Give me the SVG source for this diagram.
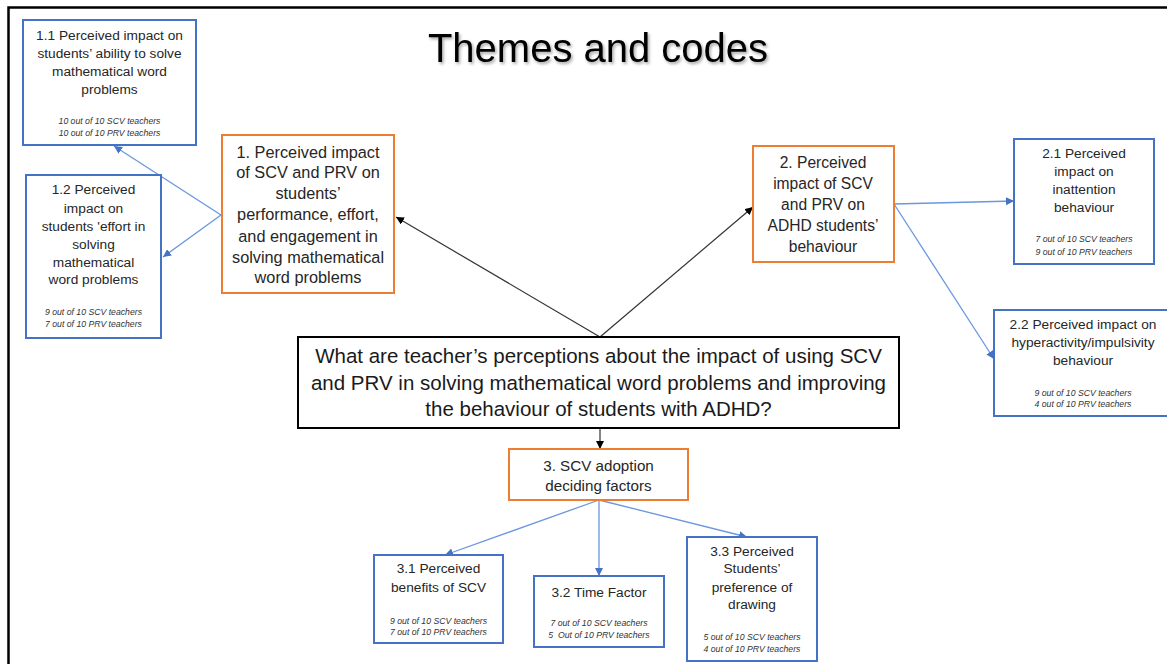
<svg xmlns="http://www.w3.org/2000/svg" width="1167" height="664" viewBox="0 0 1167 664">
<style>
text{font-family:"Liberation Sans",Arial,sans-serif;fill:#262626;text-anchor:middle}
.t{font-size:40px;fill:#000}
.q{font-size:20.5px;fill:#1a1a1a}
.o{font-size:16.3px}
.o2{font-size:15.6px}
.o3{font-size:15.2px}
.b{font-size:13.7px}
.s{font-size:8.7px;font-style:italic;fill:#333;white-space:pre}
.bo{fill:#fff;stroke:#4472C4;stroke-width:2}
.or{fill:#fff;stroke:#ED7D31;stroke-width:2}
.mb{fill:#fff;stroke:#000;stroke-width:2}
.cb{stroke:#6A97DF;stroke-width:1.3;fill:none;marker-end:url(#ab)}
.ck{stroke:#333;stroke-width:1.2;fill:none;marker-end:url(#ak)}
</style>
<defs>
<marker id="ab" viewBox="0 0 10 10" refX="10" refY="5" markerWidth="8" markerHeight="8" markerUnits="userSpaceOnUse" orient="auto"><path d="M0,0 L10,5 L0,10 z" fill="#4472C4"/></marker>
<marker id="ak" viewBox="0 0 10 10" refX="10" refY="5" markerWidth="8" markerHeight="8" markerUnits="userSpaceOnUse" orient="auto"><path d="M0,0 L10,5 L0,10 z" fill="#000"/></marker>
<filter id="sh" x="-10%" y="-30%" width="120%" height="160%"><feDropShadow dx="1.5" dy="2" stdDeviation="1.5" flood-color="#000" flood-opacity="0.35"/></filter>
</defs>
<rect width="1167" height="664" fill="#fff"/>
<path d="M8.5,664 L8.5,7.5 L1167,7.5" fill="none" stroke="#000" stroke-width="2.5"/>
<text class="t" x="598" y="62" filter="url(#sh)">Themes and codes</text>

<g id="connectors">
<path class="cb" d="M221,215 L114,146"/>
<path class="cb" d="M221,215 L163,257"/>
<path class="ck" d="M600,337 L396,217"/>
<path class="ck" d="M600,337 L753,207"/>
<path class="ck" d="M600,428 L600,449"/>
<path class="cb" d="M894,204 L1014,201"/>
<path class="cb" d="M894,204 L994,359"/>
<path class="cb" d="M599,500 L445,555"/>
<path class="cb" d="M599,500 L599,576"/>
<path class="cb" d="M599,500 L747,537"/>
</g>

<g id="n1_1">
<rect class="bo" x="23" y="20" width="173" height="125"/>
<text class="b" x="109.5" y="40">1.1 Perceived impact on</text>
<text class="b" x="109.5" y="58">students’ ability to solve</text>
<text class="b" x="109.5" y="76">mathematical word</text>
<text class="b" x="109.5" y="94">problems</text>
<text class="s" x="109.5" y="124">10 out of 10 SCV teachers</text>
<text class="s" x="109.5" y="136">10 out of 10 PRV teachers</text>
</g>

<g id="n1_2">
<rect class="bo" x="26" y="175" width="135" height="163"/>
<text class="b" x="93.5" y="194">1.2 Perceived</text>
<text class="b" x="93.5" y="213">impact on</text>
<text class="b" x="93.5" y="231">students 'effort in</text>
<text class="b" x="93.5" y="249">solving</text>
<text class="b" x="93.5" y="267">mathematical</text>
<text class="b" x="93.5" y="284">word problems</text>
<text class="s" x="93.5" y="315">9 out of 10 SCV teachers</text>
<text class="s" x="93.5" y="327">7 out of 10 PRV teachers</text>
</g>

<g id="n1">
<rect class="or" x="222" y="135" width="172" height="158"/>
<text class="o" x="308" y="158">1. Perceived impact</text>
<text class="o" x="308" y="178">of SCV and PRV on</text>
<text class="o" x="308" y="199">students’</text>
<text class="o" x="308" y="220">performance, effort,</text>
<text class="o" x="308" y="242">and engagement in</text>
<text class="o" x="308" y="263">solving mathematical</text>
<text class="o" x="308" y="283">word problems</text>
</g>

<g id="n2">
<rect class="or" x="753" y="146" width="141" height="116"/>
<text class="o2" x="823" y="168">2. Perceived</text>
<text class="o2" x="823" y="189">impact of SCV</text>
<text class="o2" x="823" y="210">and PRV on</text>
<text class="o2" x="823" y="231">ADHD students’</text>
<text class="o2" x="823" y="252">behaviour</text>
</g>

<g id="n2_1">
<rect class="bo" x="1014" y="139" width="140" height="125"/>
<text class="b" x="1084" y="158">2.1 Perceived</text>
<text class="b" x="1084" y="176">impact on</text>
<text class="b" x="1084" y="194">inattention</text>
<text class="b" x="1084" y="212">behaviour</text>
<text class="s" x="1084" y="242">7 out of 10 SCV teachers</text>
<text class="s" x="1084" y="255">9 out of 10 PRV teachers</text>
</g>

<g id="n2_2">
<rect class="bo" x="994" y="310" width="180" height="106"/>
<text class="b" x="1083" y="329">2.2 Perceived impact on</text>
<text class="b" x="1083" y="347">hyperactivity/impulsivity</text>
<text class="b" x="1083" y="365">behaviour</text>
<text class="s" x="1083" y="396">9 out of 10 SCV teachers</text>
<text class="s" x="1083" y="407">4 out of 10 PRV teachers</text>
</g>

<g id="main">
<rect class="mb" x="298" y="337" width="601" height="91"/>
<text class="q" x="598.5" y="363">What are teacher’s perceptions about the impact of using SCV</text>
<text class="q" x="598.5" y="390">and PRV in solving mathematical word problems and improving</text>
<text class="q" x="598.5" y="416">the behaviour of students with ADHD?</text>
</g>

<g id="n3">
<rect class="or" x="509" y="449" width="179" height="51"/>
<text class="o3" x="598.5" y="470.5">3. SCV adoption</text>
<text class="o3" x="598.5" y="490.5">deciding factors</text>
</g>

<g id="n3_1">
<rect class="bo" x="374" y="555" width="129" height="88"/>
<text class="b" x="438.5" y="573">3.1 Perceived</text>
<text class="b" x="438.5" y="592">benefits of SCV</text>
<text class="s" x="438.5" y="624">9 out of 10 SCV teachers</text>
<text class="s" x="438.5" y="635">7 out of 10 PRV teachers</text>
</g>

<g id="n3_2">
<rect class="bo" x="534" y="576" width="130" height="71"/>
<text class="b" x="599" y="597">3.2 Time Factor</text>
<text class="s" x="599" y="626">7 out of 10 SCV teachers</text>
<text class="s" x="599" y="638">5  Out of 10 PRV teachers</text>
</g>

<g id="n3_3">
<rect class="bo" x="687" y="537" width="130" height="124"/>
<text class="b" x="752" y="556">3.3 Perceived</text>
<text class="b" x="752" y="573">Students’</text>
<text class="b" x="752" y="592">preference of</text>
<text class="b" x="752" y="609">drawing</text>
<text class="s" x="752" y="640">5 out of 10 SCV teachers</text>
<text class="s" x="752" y="652">4 out of 10 PRV teachers</text>
</g>
</svg>
